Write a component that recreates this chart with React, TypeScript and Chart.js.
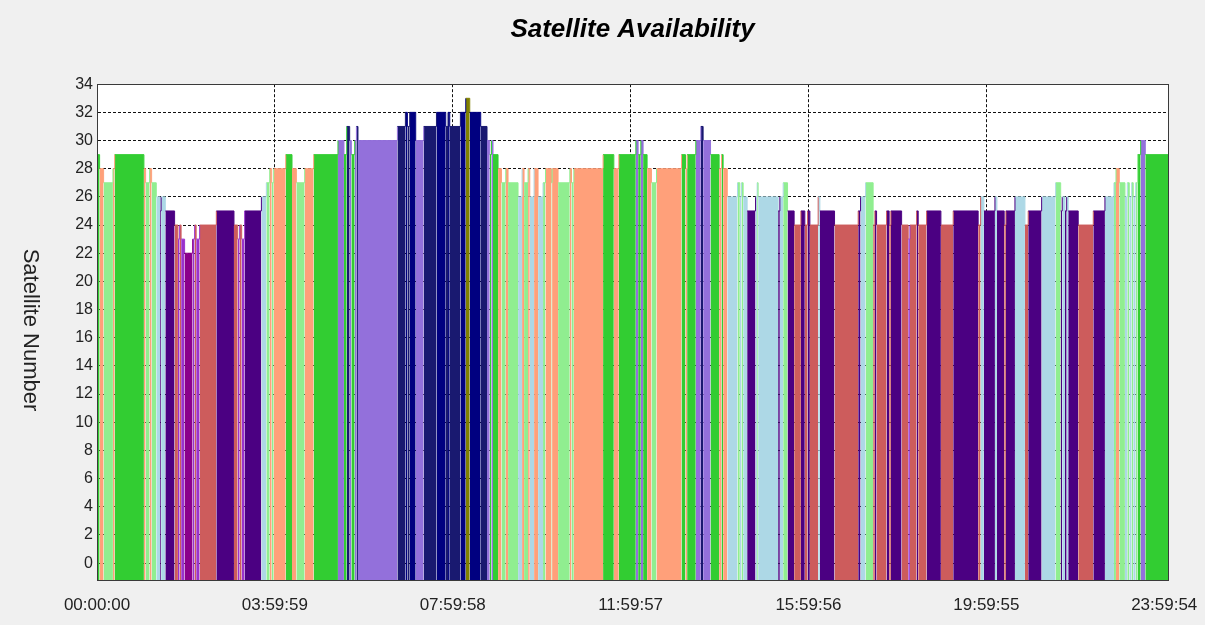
import React, { useEffect, useRef } from 'react';
import { Chart, registerables } from 'chart.js';

Chart.register(...registerables);

// Start time (minutes after 00:00:00) of each run of constant satellite count
const segmentStartMinutes = [
  0, 3.5, 8.9, 21.5, 23.8, 63.3, 65.6, 71.0, 73.7, 80.0,
  85.2, 86.5, 92.2, 104.7, 109.2, 111.5, 113.5, 118.2, 129.0, 131.7,
  133.8, 138.5, 161.0, 184.8, 189.8, 192.5, 195.2, 199.2, 221.8, 228.5,
  233.0, 235.7, 238.4, 254.6, 263.1, 269.0, 280.2, 292.3, 325.1, 333.2,
  336.9, 340.9, 343.2, 347.7, 350.0, 352.1, 405.3, 416.1, 418.8, 421.9,
  430.0, 440.8, 458.0, 470.5, 473.6, 475.9, 490.3, 497.5, 502.9, 517.7,
  526.2, 529.9, 532.2, 534.3, 541.1, 545.7, 551.5, 554.6, 568.1, 573.5,
  576.2, 581.6, 583.9, 589.7, 595.1, 601.8, 605.1, 613.2, 614.0, 622.1,
  637.9, 640.2, 643.3, 682.8, 697.3, 704.0, 727.0, 730.1, 733.7, 736.8,
  742.2, 748.1, 754.9, 788.6, 794.0, 796.2, 807.9, 814.7, 817.8, 827.8,
  839.4, 842.6, 844.8, 850.4, 864.2, 867.3, 869.6, 871.8, 877.2, 888.5,
  890.7, 892.0, 919.0, 921.3, 925.8, 931.7, 940.6, 949.7, 955.0, 958.7,
  961.8, 973.0, 975.3, 995.1, 1027.0, 1030.2, 1037.0, 1047.2, 1049.5, 1051.8,
  1065.3, 1068.8, 1071.1, 1085.6, 1094.5, 1096.8, 1105.8, 1108.0, 1119.3, 1138.6,
  1155.2, 1188.9, 1192.2, 1196.6, 1211.5, 1214.2, 1224.0, 1226.3, 1238.5, 1252.0,
  1256.4, 1274.5, 1293.4, 1300.2, 1302.3, 1306.0, 1308.3, 1310.4, 1323.9, 1344.2,
  1359.9, 1372.1, 1374.8, 1379.3, 1386.9, 1390.1, 1392.8, 1396.0, 1398.1, 1401.4,
  1404.1, 1408.1, 1414.4,
];

// Number of satellites visible during each run
const satelliteCounts = [
  29, 28, 27, 28, 29, 28, 27, 28, 27, 26,
  25, 26, 25, 24, 23, 24, 23, 22, 23, 24,
  23, 24, 25, 24, 23, 24, 23, 25, 26, 27,
  28, 27, 28, 29, 28, 27, 28, 29, 30, 29,
  31, 30, 29, 30, 31, 30, 31, 32, 31, 32,
  30, 31, 32, 31, 32, 31, 32, 33, 32, 31,
  30, 29, 30, 29, 28, 27, 28, 27, 26, 28,
  27, 28, 26, 28, 26, 27, 28, 27, 28, 27,
  28, 27, 28, 29, 28, 29, 30, 29, 30, 29,
  28, 27, 28, 29, 28, 29, 30, 31, 30, 29,
  28, 29, 28, 26, 27, 26, 27, 26, 25, 26,
  27, 26, 25, 26, 27, 25, 24, 25, 24, 25,
  24, 26, 25, 24, 25, 26, 27, 24, 25, 24,
  25, 24, 25, 24, 23, 24, 25, 24, 25, 24,
  25, 24, 26, 25, 26, 25, 24, 25, 26, 24,
  25, 26, 27, 25, 26, 25, 26, 25, 24, 25,
  26, 27, 28, 27, 26, 27, 26, 27, 26, 27,
  29, 30, 29,
];

const axisEndMinutes = 1445;
const xTickSeconds = [0, 14399, 28798, 43197, 57596, 71995, 86394];
const yTickValues = [0, 2, 4, 6, 8, 10, 12, 14, 16, 18, 20, 22, 24, 26, 28, 30, 32, 34];

const countLevels = [22, 23, 24, 25, 26, 27, 28, 29, 30, 31, 32, 33];
const countColors = [
  '#8B008B', '#9932CC', '#CD5C5C', '#4B0082', '#ADD8E6', '#90EE90',
  '#FFA07A', '#32CD32', '#9370DB', '#191970', '#000080', '#808000',
];

const FONT = '"Liberation Sans", Arial, sans-serif';

function colorFor(v: number): string {
  const i = countLevels.indexOf(v);
  return i >= 0 ? countColors[i] : '#888888';
}

function fmtTime(sec: number): string {
  const s = Math.round(sec);
  const h = Math.floor(s / 3600);
  const m = Math.floor((s % 3600) / 60);
  const ss = s % 60;
  const p = (n: number) => String(n).padStart(2, '0');
  return `${p(h)}:${p(m)}:${p(ss)}`;
}

const plotFrame = {
  id: 'plotFrame',
  beforeDraw(chart: any) {
    const { ctx, chartArea: a } = chart;
    ctx.save();
    ctx.fillStyle = '#ffffff';
    ctx.fillRect(a.left, a.top, a.right - a.left, a.bottom - a.top);
    ctx.restore();
  },
  afterDraw(chart: any) {
    const { ctx, chartArea: a } = chart;
    ctx.save();
    ctx.strokeStyle = '#3a3a3a';
    ctx.lineWidth = 1;
    const l = Math.round(a.left) + 0.5;
    const t = Math.round(a.top) + 0.5;
    const r = Math.round(a.right) + 0.5;
    const b = Math.round(a.bottom) + 0.5;
    ctx.strokeRect(l, t, r - l, b - t);
    ctx.restore();
  },
};

export default function App() {
  const ref = useRef<HTMLCanvasElement>(null);

  useEffect(() => {
    if (!ref.current) return;
    const points = segmentStartMinutes.map((m, i) => ({ x: m, y: satelliteCounts[i] }));
    points.push({ x: axisEndMinutes, y: satelliteCounts[satelliteCounts.length - 1] });

    const chart = new Chart(ref.current, {
      type: 'line',
      data: {
        datasets: [
          {
            data: points,
            stepped: 'before',
            fill: 'start',
            pointRadius: 0,
            borderWidth: 1,
            borderColor: '#32CD32',
            backgroundColor: '#32CD32',
            segment: {
              borderColor: (c: any) => colorFor(c.p0.parsed.y),
              backgroundColor: (c: any) => colorFor(c.p0.parsed.y),
            },
          } as any,
        ],
      },
      options: {
        responsive: false,
        animation: false,
        devicePixelRatio: 1,
        events: [],
        layout: { padding: { left: 0, right: 37, top: 0, bottom: 0 } },
        plugins: {
          legend: { display: false },
          tooltip: { enabled: false },
          title: {
            display: true,
            text: 'Satellite Availability',
            color: '#000',
            fullSize: false,
            font: { family: FONT, size: 26, weight: 'bold', style: 'italic' },
            padding: { top: 14, bottom: 39 },
          },
        },
        scales: {
          x: {
            type: 'linear',
            min: 0,
            max: axisEndMinutes,
            afterBuildTicks: (s: any) => {
              s.ticks = xTickSeconds.map((v) => ({ value: v / 60 }));
            },
            afterFit: (s: any) => {
              s.height = 45;
            },
            ticks: {
              autoSkip: false,
              maxRotation: 0,
              padding: 0,
              color: '#222',
              font: { family: FONT, size: 17, lineHeight: 50 / 17 },
              callback: (v: any) => fmtTime(Number(v) * 60),
            },
            grid: {
              drawTicks: false,
              lineWidth: 1,
              color: (c: any) =>
                c.index === 0 || c.index === xTickSeconds.length - 1 ? 'rgba(0,0,0,0)' : '#111',
            },
            border: { display: true, color: '#3a3a3a', dash: [3, 2] },
          },
          y: {
            type: 'linear',
            min: -1.2,
            max: 34,
            afterBuildTicks: (s: any) => {
              s.ticks = yTickValues.map((v) => ({ value: v }));
            },
            afterFit: (s: any) => {
              s.width = 97;
            },
            ticks: {
              padding: 4,
              color: '#222',
              font: { family: FONT, size: 16 },
            },
            grid: { drawTicks: false, lineWidth: 1, color: '#111' },
            border: { display: true, color: '#3a3a3a', dash: [3, 2] },
          },
        },
      } as any,
      plugins: [plotFrame],
    });
    return () => chart.destroy();
  }, []);

  return (
    <div
      style={{
        position: 'fixed',
        left: 0,
        top: 0,
        width: 1205,
        height: 625,
        background: '#f0f0f0',
        overflow: 'hidden',
      }}
    >
      <canvas ref={ref} width={1205} height={625} style={{ display: 'block' }} />
      <div
        style={{
          position: 'absolute',
          left: 31,
          top: 330,
          transform: 'translate(-50%, -50%)',
          writingMode: 'vertical-rl',
          whiteSpace: 'nowrap',
          fontFamily: FONT,
          fontSize: 22,
          lineHeight: 1,
          color: '#222',
        }}
      >
        Satellite Number
      </div>
    </div>
  );
}
